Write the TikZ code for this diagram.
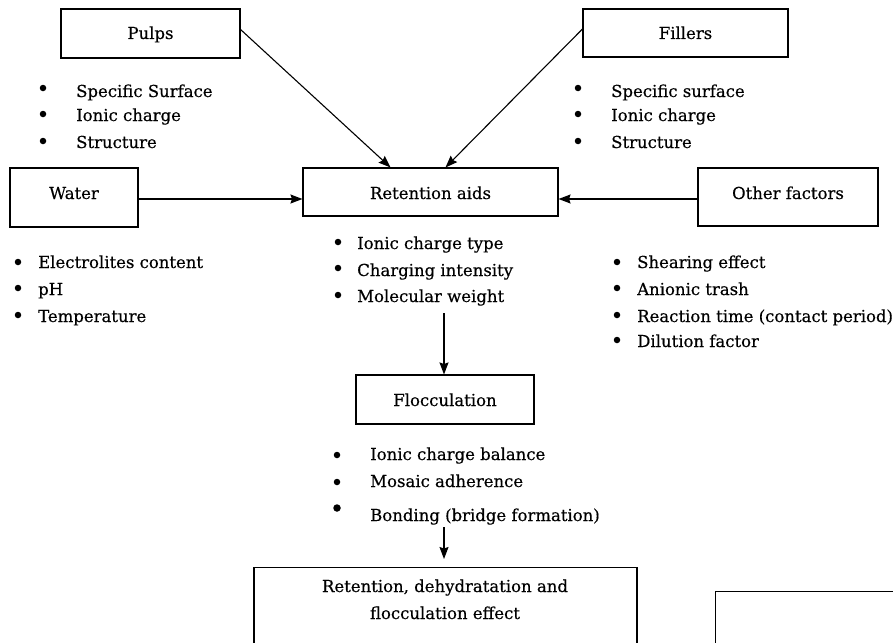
\documentclass[tikz,border=0pt]{standalone}
\usepackage{fontspec}
\setmainfont{DejaVu Serif}[FakeBold=0.4]
\usetikzlibrary{arrows.meta}
\begin{document}
\begin{tikzpicture}[x=1pt,y=-1pt,
  every node/.style={font=\fontsize{16.5}{27}\selectfont},
  box/.style={draw, line width=1.1pt, inner sep=0pt, anchor=base},
  itm/.style={anchor=base west, inner sep=0pt},
  bul/.style={circle, fill, inner sep=0pt, minimum size=6.5pt},
  arr/.style={line width=1.1pt, -{Stealth[length=12pt,width=9pt,inset=1.5pt]}}]
\useasboundingbox (0,0) rectangle (893,642);
\clip (0,0) rectangle (893,642);

% boxes
\node[box, minimum width=179pt, text height=30pt, text depth=19pt] (pulps) at (150.5,39) {Pulps};
\node[box, minimum width=205pt, text height=30pt, text depth=18pt] (fillers) at (685.5,39) {Fillers};
\node[box, minimum width=128pt, text height=31pt, text depth=28pt] (water) at (74,199) {Water};
\node[box, minimum width=255pt, text height=31pt, text depth=17pt] (ret) at (430.5,199) {Retention aids};
\node[box, minimum width=180pt, text height=31pt, text depth=27pt] (other) at (788,199) {Other factors};
\node[box, minimum width=178pt, text height=31pt, text depth=18pt] (floc) at (445,406) {Flocculation};
\node[draw, line width=1.1pt, minimum width=383pt, minimum height=110pt, anchor=north, inner sep=0pt] (result) at (445.5,567) {};
\node[align=center, anchor=base, inner sep=0pt] (resulttext) at (445,619) {Retention, dehydratation and\\flocculation effect};
\node[draw, line width=1.1pt, minimum width=250pt, minimum height=100pt, anchor=north west, inner sep=0pt] (blank) at (715,591) {};

% pulps items
\node[bul] (pb1) at (43,88) {};  \node[itm] (pt1) at (76,97) {Specific Surface};
\node[bul] (pb2) at (43,114) {}; \node[itm] (pt2) at (76,121) {Ionic charge};
\node[bul] (pb3) at (43,141) {}; \node[itm] (pt3) at (76,148) {Structure};
% fillers items
\node[bul] (fb1) at (578,88) {};  \node[itm] (ft1) at (611,97) {Specific surface};
\node[bul] (fb2) at (578,114) {}; \node[itm] (ft2) at (611,121) {Ionic charge};
\node[bul] (fb3) at (578,141) {}; \node[itm] (ft3) at (611,148) {Structure};
% water items
\node[bul] (wb1) at (18,262) {}; \node[itm] (wt1) at (38,268) {Electrolites content};
\node[bul] (wb2) at (18,288) {}; \node[itm] (wt2) at (38,295) {pH};
\node[bul] (wb3) at (18,315) {}; \node[itm] (wt3) at (38,322) {Temperature};
% retention items
\node[bul] (rb1) at (338,242) {}; \node[itm] (rt1) at (357,249) {Ionic charge type};
\node[bul] (rb2) at (338,268) {}; \node[itm] (rt2) at (357,276) {Charging intensity};
\node[bul] (rb3) at (338,295) {}; \node[itm] (rt3) at (357,302) {Molecular weight};
% other items
\node[bul] (ob1) at (617,262) {}; \node[itm] (ot1) at (637,268) {Shearing effect};
\node[bul] (ob2) at (617,288) {}; \node[itm] (ot2) at (637,295) {Anionic trash};
\node[bul] (ob3) at (617,315) {}; \node[itm] (ot3) at (637,322) {Reaction time (contact period)};
\node[bul] (ob4) at (617,340) {}; \node[itm] (ot4) at (637,347) {Dilution factor};
% flocculation items
\node[bul] (lb1) at (337,455) {}; \node[itm] (lt1) at (370,460) {Ionic charge balance};
\node[bul] (lb2) at (337,482) {}; \node[itm] (lt2) at (370,487) {Mosaic adherence};
\node[bul, minimum size=7.5pt] (lb3) at (337,508) {}; \node[itm] (lt3) at (370,521) {Bonding (bridge formation)};

% connectors
\draw[arr] ([yshift=4pt]pulps.east) -- ([xshift=-40pt]ret.north);
\draw[arr] ([yshift=4pt]fillers.west) -- ([xshift=15pt]ret.north);
\draw[arr] ([yshift=-1.5pt]water.east) -- ([yshift=-7pt]ret.west);
\draw[arr] ([yshift=-2pt]other.west) -- ([yshift=-7pt]ret.east);
\coordinate (a1) at (444,313);
\draw[arr] (a1) -- (a1 |- floc.north);
\coordinate (a2) at (444,527);
\draw[arr, shorten >=8pt] (a2) -- (a2 |- result.north);
\end{tikzpicture}
\end{document}
